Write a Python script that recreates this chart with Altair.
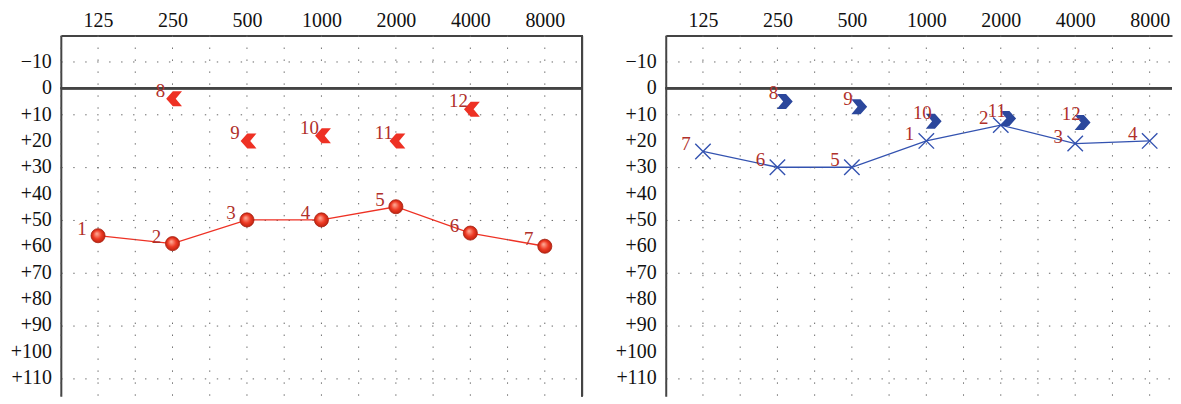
import altair as alt
import pandas as pd

# ---------------- data ----------------
freq_labels = ["125", "250", "500", "1000", "2000", "4000", "8000"]
octave_idx = [0, 1, 2, 3, 4, 5, 6]

left_ac_db = [56, 59, 50, 50, 45, 55, 60]
left_ac_num = ["1", "2", "3", "4", "5", "6", "7"]

left_bc_idx = [1, 2, 3, 4, 5]
left_bc_db = [4, 20, 18, 20, 8]
left_bc_num = ["8", "9", "10", "11", "12"]

right_ac_db = [24, 30, 30, 20, 14, 21, 20]
right_ac_num = ["7", "6", "5", "1", "2", "3", "4"]

right_bc_idx = [1, 2, 3, 4, 5]
right_bc_db = [5, 7, 12.5, 11.5, 13]
right_bc_num = ["8", "9", "10", "11", "12"]

db_ticks = [-10, 0, 10, 20, 30, 40, 50, 60, 70, 80, 90, 100, 110]
db_tick_labels = ["\u221210", "0", "+10", "+20", "+30", "+40", "+50",
                  "+60", "+70", "+80", "+90", "+100", "+110"]
half_octave_grid = [-0.5, 0, 0.5, 1, 1.5, 2, 2.5, 3, 3.5, 4, 4.5, 5, 5.5, 6, 6.5]

# ---------------- style ----------------
FONT = "Liberation Serif"
LABEL_COLOR = "#b0302a"
RED = "#ee3124"
BLUE = "#2b479c"
BLUE_LINE = "#3352b0"
GRID = "#666666"
BORDER = "#444444"
DASH = [1.4, 10.6]

LEFT_CHEV = "M-1,0 L-0.2,-0.9 L0.9,-0.9 L0.15,0 L0.9,0.9 L-0.2,0.9 Z"
RIGHT_CHEV = "M1,0 L0.2,-0.9 L-0.9,-0.9 L-0.15,0 L-0.9,0.9 L0.2,0.9 Z"
X_SHAPE = "M-1,-1 L1,1 M-1,1 L1,-1"

x_label_expr = "".join(
    f"datum.value === {i} ? '{lab}' : " for i, lab in zip(octave_idx, freq_labels)
) + "''"

sphere = alt.RadialGradient(
    gradient="radial",
    stops=[
        alt.GradientStop(color="#ffb39f", offset=0),
        alt.GradientStop(color="#ee3a24", offset=0.55),
        alt.GradientStop(color="#b51e0c", offset=1),
    ],
    x1=0.4, y1=0.35, r1=0, x2=0.5, y2=0.5, r2=0.55,
)


def panel(ac_db, ac_num, bc_idx, bc_db, bc_num, ac_kind, bc_shape, bc_color,
          bc_xoff, bc_dx, ac_dx, x_max, width, right_border):
    ac = pd.DataFrame({"x": octave_idx, "db": ac_db, "num": ac_num})
    bc = pd.DataFrame({"x": bc_idx, "db": bc_db, "num": bc_num})
    grid = pd.DataFrame({"x": [g for g in half_octave_grid if g <= x_max]})
    ylab = pd.DataFrame({"db": db_ticks, "lab": db_tick_labels})

    x_enc = alt.X(
        "x:Q",
        scale=alt.Scale(domain=[-0.5, x_max], nice=False, zero=False),
        axis=alt.Axis(
            orient="top", values=octave_idx, labelExpr=x_label_expr, title=None,
            grid=False, ticks=False, domain=True, domainColor=BORDER,
            domainWidth=2, labelPadding=5, labelFont=FONT, labelFontSize=20,
            labelColor="#111111", labelAngle=0, labelOverlap=False,
            labelFlush=False,
        ),
    )
    y_enc = alt.Y(
        "db:Q",
        scale=alt.Scale(domain=[-20, 117], reverse=True, nice=False, zero=False),
        axis=alt.Axis(
            orient="left", values=db_ticks, labels=False, title=None,
            grid=True, gridDash=DASH, gridColor=GRID, gridWidth=1,
            ticks=False, domain=True, domainColor=BORDER, domainWidth=2,
        ),
    )

    vgrid = alt.Chart(grid).mark_rule(
        color=GRID, strokeWidth=1, strokeDash=DASH
    ).encode(x="x:Q")
    zero = alt.Chart(ac).mark_rule(color=BORDER, strokeWidth=2).encode(
        y=alt.datum(0)
    )
    ytxt = alt.Chart(ylab).mark_text(
        align="right", baseline="middle", dx=-9, font=FONT, fontSize=20,
        color="#111111",
    ).encode(x=alt.value(0), y="db:Q", text="lab:N")
    layers = [vgrid, zero, ytxt]
    if right_border:
        layers.append(
            alt.Chart(ac).mark_rule(color=BORDER, strokeWidth=2).encode(
                x=alt.datum(x_max)
            )
        )

    if ac_kind == "circle":
        line = alt.Chart(ac).mark_line(color=RED, strokeWidth=1.3).encode(x=x_enc, y=y_enc)
        pts = alt.Chart(ac).mark_point(
            shape="circle", filled=True, size=200, fill=sphere,
            stroke="#a8200f", strokeWidth=0.8, opacity=1, fillOpacity=1,
        ).encode(x="x:Q", y="db:Q")
    else:
        line = alt.Chart(ac).mark_line(color=BLUE_LINE, strokeWidth=1.3).encode(x=x_enc, y=y_enc)
        pts = alt.Chart(ac).mark_point(
            shape=X_SHAPE, filled=False, size=240, color=BLUE_LINE,
            strokeWidth=1.4, opacity=1,
        ).encode(x="x:Q", y="db:Q")

    ac_txt = alt.Chart(ac).mark_text(
        font=FONT, fontSize=19, color=LABEL_COLOR, dx=ac_dx, dy=-7,
    ).encode(x="x:Q", y="db:Q", text="num:N")

    bc_pts = alt.Chart(bc).mark_point(
        shape=bc_shape, filled=True, size=280, color=bc_color, opacity=1,
        xOffset=bc_xoff,
    ).encode(x="x:Q", y="db:Q")
    bc_txt = alt.Chart(bc).mark_text(
        font=FONT, fontSize=19, color=LABEL_COLOR, dx=bc_dx + bc_xoff, dy=-8,
    ).encode(x="x:Q", y="db:Q", text="num:N")

    layers = [line] + layers + [pts, ac_txt, bc_pts, bc_txt]
    return alt.layer(*layers).properties(width=width, height=362)


left = panel(left_ac_db, left_ac_num, left_bc_idx, left_bc_db, left_bc_num,
             "circle", LEFT_CHEV, RED, 2, -14, -16, 6.5, 523, True)
right = panel(right_ac_db, right_ac_num, right_bc_idx, right_bc_db, right_bc_num,
              "x", RIGHT_CHEV, BLUE, 7, -11, -17, 6.3, 508, False)

chart = (
    alt.hconcat(left, right, spacing=84, bounds="flush")
    .properties(padding={"left": 2, "top": 2, "right": 0, "bottom": 0})
    .configure_view(stroke=None)
    .configure_axis(labelOverlap=False)
)

chart.save("out.html", embed_options={"renderer": "svg", "actions": False})
